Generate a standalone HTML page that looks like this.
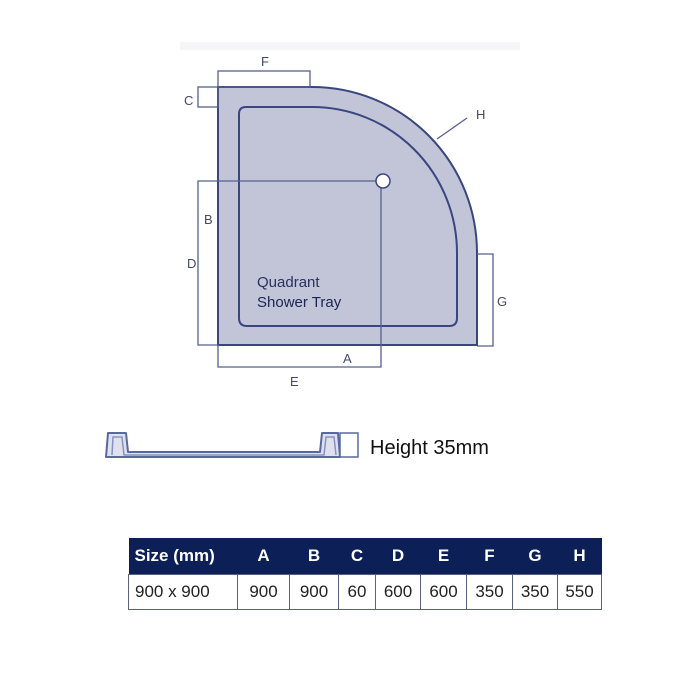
<!DOCTYPE html>
<html><head><style>
body{margin:0;background:#fff;width:700px;height:700px;overflow:hidden;font-family:"Liberation Sans",sans-serif;}
table{position:absolute;left:128px;top:538px;border-collapse:collapse;width:474px;table-layout:fixed;}
td,th{font-size:17px;text-align:center;padding:0;}
th{background:#0c1f56;color:#fff;height:36px;font-weight:bold;}
td{height:34px;border:1px solid #5a6080;color:#222;}
</style></head><body>
<svg width="700" height="700" style="position:absolute;left:0;top:0" font-family="Liberation Sans, sans-serif">
<rect x="180" y="42" width="340" height="8" fill="#f6f6f8"/>
<path d="M218,87 L312,87 A165,166 0 0 1 477,253 L477,345 L218,345 Z" fill="#c2c5d8" stroke="#3a4680" stroke-width="2"/>
<path d="M246,107 L312,107 A145,146 0 0 1 457,253 L457,318 Q457,326 449,326 L247,326 Q239,326 239,318 L239,114 Q239,107 246,107 Z" fill="none" stroke="#3a4680" stroke-width="2"/>
<g fill="none" stroke="#55608e" stroke-width="1.3">
<rect x="218" y="71" width="92" height="16"/>
<rect x="198" y="87" width="20" height="20"/>
<path d="M383,181 L198,181 L198,345 L218,345"/>
<path d="M381,181 L381,367 L218,367 L218,345"/>
<path d="M477,254 L493,254 L493,346 L477,346"/>
<path d="M437,139 L467,118"/>
</g>
<circle cx="383" cy="181" r="7" fill="#fff" stroke="#3a4680" stroke-width="1.5"/>
<g fill="#444a66" font-size="13">
<text x="261" y="66">F</text>
<text x="184" y="105">C</text>
<text x="476" y="119">H</text>
<text x="204" y="224">B</text>
<text x="187" y="268">D</text>
<text x="497" y="306">G</text>
<text x="343" y="363">A</text>
<text x="290" y="386">E</text>
</g>
<text x="257" y="287" font-size="15" fill="#2a3060">Quadrant</text>
<text x="257" y="307" font-size="15" fill="#1e2450">Shower Tray</text>
<path d="M106,457 L108,433 L126,433 L128,452 L320,452 L322,433 L338,433 L340,457 Z" fill="#dfe2ee" stroke="#5a68a0" stroke-width="2" stroke-linejoin="round"/>
<path d="M112,455 L113,437 L122,437 L124,455 L324,455 L326,437 L334,437 L336,455" fill="none" stroke="#8892c0" stroke-width="1.5"/>
<rect x="340" y="433" width="18" height="24" fill="#fff" stroke="#5a68a0" stroke-width="1.5"/>
<text x="370" y="454" font-size="20" fill="#111">Height 35mm</text>
</svg>
<table>
<tr><th style="width:103px;text-align:left;padding-left:6px">Size (mm)</th><th style="width:52px">A</th><th style="width:49px">B</th><th style="width:37px">C</th><th style="width:45px">D</th><th style="width:46px">E</th><th style="width:46px">F</th><th style="width:45px">G</th><th>H</th></tr>
<tr><td style="text-align:left;padding-left:6px">900 x 900</td><td>900</td><td>900</td><td>60</td><td>600</td><td>600</td><td>350</td><td>350</td><td>550</td></tr>
</table>
</body></html>
